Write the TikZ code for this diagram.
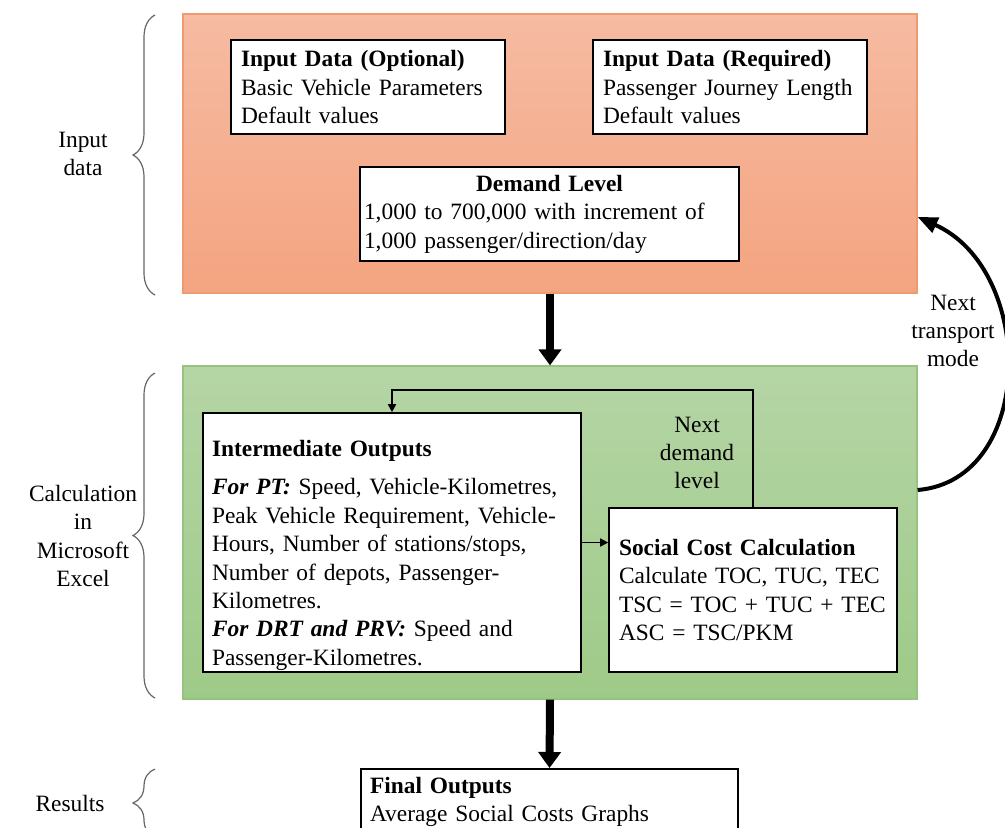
\documentclass[tikz,border=0pt]{standalone}
\usepackage{fontspec}
\setmainfont{Liberation Serif}
\usetikzlibrary{arrows.meta,positioning,decorations.pathreplacing}
\definecolor{orangetop}{HTML}{F6BBA2}
\definecolor{orangebot}{HTML}{F4A480}
\definecolor{orangeedge}{HTML}{EE9A72}
\definecolor{greentop}{HTML}{B5D5A5}
\definecolor{greenbot}{HTML}{9ECA88}
\definecolor{greenedge}{HTML}{96C47F}
\begin{document}
\begin{tikzpicture}[x=0.5pt,y=-0.5pt,font=\fontsize{11.7}{14.2}\selectfont,
  panel/.style={line width=0.6pt,minimum width=367pt,inner sep=0pt},
  box/.style={draw,line width=0.8pt,fill=white,align=left,inner xsep=5pt,inner ysep=4pt},
  bigarrow/.style={line width=4pt,-{Triangle[length=8pt,width=11pt]}},
  loop/.style={line width=0.8pt,-{Triangle[length=4pt,width=4pt]}},
  modearrow/.style={line width=2pt,-{Triangle[length=10pt,width=8pt]}},
  sidebrace/.style={decorate,decoration={brace,amplitude=11pt},draw=black!60,line width=0.6pt}]
\clip (0,0) rectangle (1005,827);
% panels
\node[panel,draw=orangeedge,top color=orangetop,bottom color=orangebot,minimum height=139.5pt] (inpanel) at (550,153.5) {};
\node[panel,draw=greenedge,top color=greentop,bottom color=greenbot,minimum height=166.5pt] (calcpanel) at (550,532.5) {};
% input boxes
\node[box,minimum height=47pt,text width=127pt] (optbox) at (368,87)
  {\textbf{Input Data (Optional)}\\Basic Vehicle Parameters\\Default values};
\node[box,minimum height=47pt,text width=127pt] (reqbox) at (730,87)
  {\textbf{Input Data (Required)}\\Passenger Journey Length\\Default values};
\node[box,minimum height=47pt,inner xsep=2pt,text width=185.5pt] (demandbox) at (549.5,214)
  {\makebox[185.5pt]{\textbf{Demand Level}}\\1,000 to 700,000 with increment of\\1,000 passenger/direction/day};
% calculation boxes
\node[box,minimum height=129.5pt,inner xsep=4.5pt,inner ysep=0pt,text width=180pt] (intbox) at (392,542.5)
  {\rule{0pt}{21pt}\textbf{Intermediate Outputs}\\[5pt]
   \textbf{\textit{For PT:}} Speed, Vehicle-Kilometres,\\
   Peak Vehicle Requirement, Vehicle-\\
   Hours, Number of stations/stops,\\
   Number of depots, Passenger-\\
   Kilometres.\\
   \textbf{\textit{For DRT and PRV:}} Speed and\\
   Passenger-Kilometres.};
\node[box,minimum height=82pt,text width=134pt] (socbox) at (753,590)
  {\textbf{Social Cost Calculation}\\Calculate TOC, TUC, TEC\\\mbox{TSC = TOC + TUC + TEC}\\ASC = TSC/PKM};
% results
\node[box,anchor=north,inner xsep=4.5pt,text width=179.5pt] (finalbox) at (549.5,768)
  {\textbf{Final Outputs}\\Average Social Costs Graphs};
% side labels
\node[align=center] (inlabel) at (83,154) {Input\\data};
\node[align=center] (calclabel) at (83,536) {Calculation\\in\\Microsoft\\Excel};
\node (reslabel) at (70,803) {Results};
\draw[sidebrace] (155,295) -- (155,15);
\draw[sidebrace] (155,698) -- (155,373);
\draw[sidebrace] (155,837) -- (155,769);
% flow
\draw[bigarrow] (inpanel.south) -- (calcpanel.north);
\draw[bigarrow] (calcpanel.south) -- (finalbox.north);
\draw[loop] (intbox.east) -- (intbox.east -| socbox.west);
\coordinate (looptop) at (753,390);
\draw[loop] (socbox.north) -- (looptop) -| (intbox.north);
\node[align=center] (nextdemand) at (697,453) {Next\\demand\\level};
\draw[modearrow] ([yshift=21.25pt]calcpanel.east) .. controls (1036,480) and (1036,270) .. ([yshift=-31.75pt]inpanel.east);
\node[align=center] (nextmode) at (953,331) {Next\\transport\\mode};
\end{tikzpicture}
\end{document}
